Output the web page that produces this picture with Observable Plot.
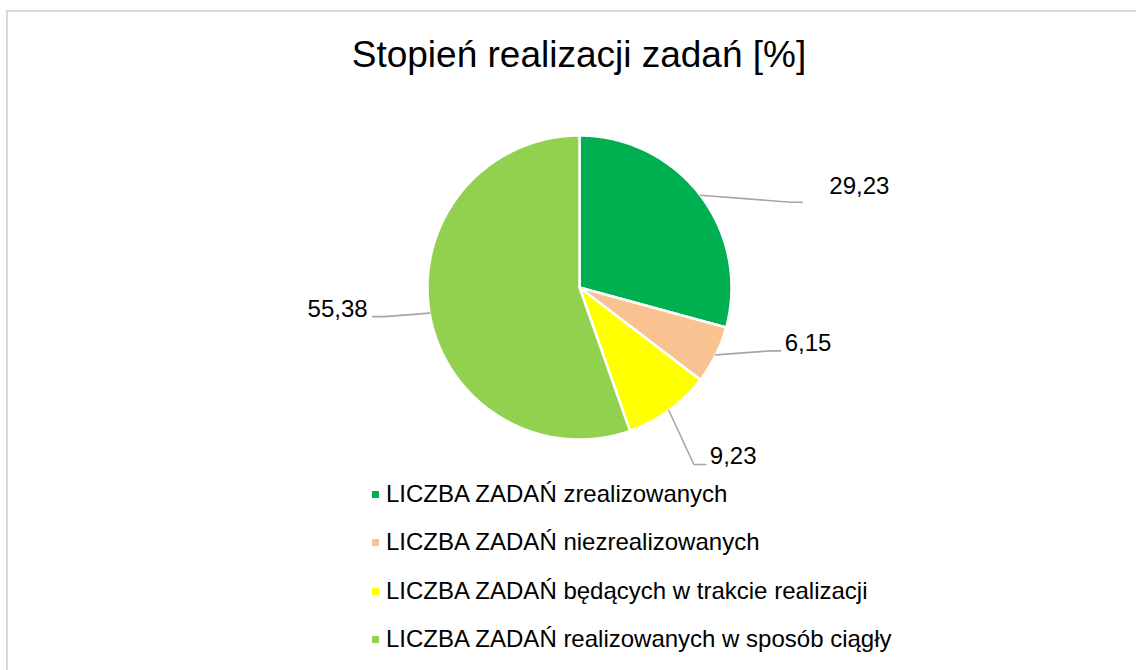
<!DOCTYPE html>
<html>
<head>
<meta charset="utf-8">
<script src="https://cdn.jsdelivr.net/npm/d3@7"></script>
<script src="https://cdn.jsdelivr.net/npm/@observablehq/plot@0.6"></script>
<style>
  html, body { margin: 0; padding: 0; background: #fff; }
  #page { position: relative; width: 1136px; height: 670px; overflow: hidden; font-family: "Liberation Sans", Arial, sans-serif; color: #000; }
  #frame { position: absolute; left: 6px; top: 10px; width: 1300px; height: 900px; border: 2px solid #d9d9d9; box-sizing: border-box; }
  #title { position: absolute; left: 79px; width: 1000px; top: 36px; font-size: 37px; line-height: 1; text-align: center; white-space: nowrap; }
  #chart { position: absolute; left: 0; top: 100px; }
  .lg { position: absolute; left: 372px; font-size: 24px; line-height: 1; white-space: nowrap; }
  .lg .sw { display: inline-block; width: 7px; height: 7px; margin-right: 7px; vertical-align: 4px; }
</style>
</head>
<body>
<div id="page">
  <div id="frame"></div>
  <div id="title">Stopień realizacji zadań [%]</div>
  <div id="chart"></div>
  <div id="legend"></div>
</div>
<script>
// ---- data ----
const categories = [
  "LICZBA ZADAŃ zrealizowanych",
  "LICZBA ZADAŃ niezrealizowanych",
  "LICZBA ZADAŃ będących w trakcie realizacji",
  "LICZBA ZADAŃ realizowanych w sposób ciągły"
];
const values = [29.23, 6.15, 9.23, 55.38];
const colors = ["#00B050", "#F8C291", "#FFFF00", "#92D050"];

// ---- layout (pixels) ----
const R = 152;
// leader elbow offset from the slice's rim point, horizontal tail direction, text nudge
const labelLayout = [
  {elbow: [90, 7], tail: 12, text: [27, -8]},
  {elbow: [55, -4], tail: 10, text: [4, 0]},
  {elbow: [25, 54], tail: 12, text: [4, 0]},
  {elbow: [-45, 3.5], tail: -12, text: [-5, 0]}
];

const fmt = v => v.toFixed(2).replace(".", ",");
const arcs = d3.pie().sort(null).value(d => d)(values);

// slice polygons
const slices = [];
arcs.forEach((a, i) => {
  const cat = categories[i];
  slices.push({x: 0, y: 0, cat});
  const n = Math.max(4, Math.ceil((a.endAngle - a.startAngle) / (Math.PI / 360)));
  for (let k = 0; k <= n; k++) {
    const t = a.startAngle + (a.endAngle - a.startAngle) * k / n;
    slices.push({x: Math.sin(t), y: Math.cos(t), cat});
  }
  slices.push({x: 0, y: 0, cat});
});

// leader lines + labels
const leaders = [];
const labels = [];
arcs.forEach((a, i) => {
  const m = (a.startAngle + a.endAngle) / 2;
  const L = labelLayout[i];
  const rx = Math.sin(m), ry = Math.cos(m);
  const ex = rx + L.elbow[0] / R, ey = ry - L.elbow[1] / R;
  const tx = ex + L.tail / R, ty = ey;
  leaders.push({x: rx, y: ry, i}, {x: ex, y: ey, i}, {x: tx, y: ty, i});
  labels.push({x: tx, y: ty, text: fmt(values[i]), anchor: L.tail < 0 ? "end" : "start", dx: L.text[0], dy: L.text[1] - 0.32 * 24});
});

const chart = Plot.plot({
  width: 1136,
  height: 380,
  marginLeft: 427,
  marginRight: 405,
  marginTop: 35,
  marginBottom: 41,
  x: {domain: [-1, 1], axis: null},
  y: {domain: [-1, 1], axis: null},
  color: {domain: categories, range: colors},
  style: {fontFamily: "'Liberation Sans', Arial, sans-serif", background: "none", overflow: "visible"},
  marks: [
    Plot.line(slices, {x: "x", y: "y", z: "cat", fill: "cat", stroke: "white", strokeWidth: 2.5, strokeLinejoin: "miter", curve: "linear"}),
    Plot.line(leaders, {x: "x", y: "y", z: "i", stroke: "#a6a6a6", strokeWidth: 1.6}),
    ...labels.map(l => Plot.text([l], {x: "x", y: "y", text: "text", textAnchor: l.anchor, dx: l.dx, dy: l.dy, fontSize: 24, fill: "#000", lineAnchor: "middle"}))
  ]
});
document.getElementById("chart").appendChild(chart);

// legend
const legend = document.getElementById("legend");
categories.forEach((c, i) => {
  const row = document.createElement("div");
  row.className = "lg";
  row.style.top = (482 + i * 48.3) + "px";
  const sw = document.createElement("span");
  sw.className = "sw";
  sw.style.background = colors[i];
  row.appendChild(sw);
  row.appendChild(document.createTextNode(c));
  legend.appendChild(row);
});
</script>
</body>
</html>
